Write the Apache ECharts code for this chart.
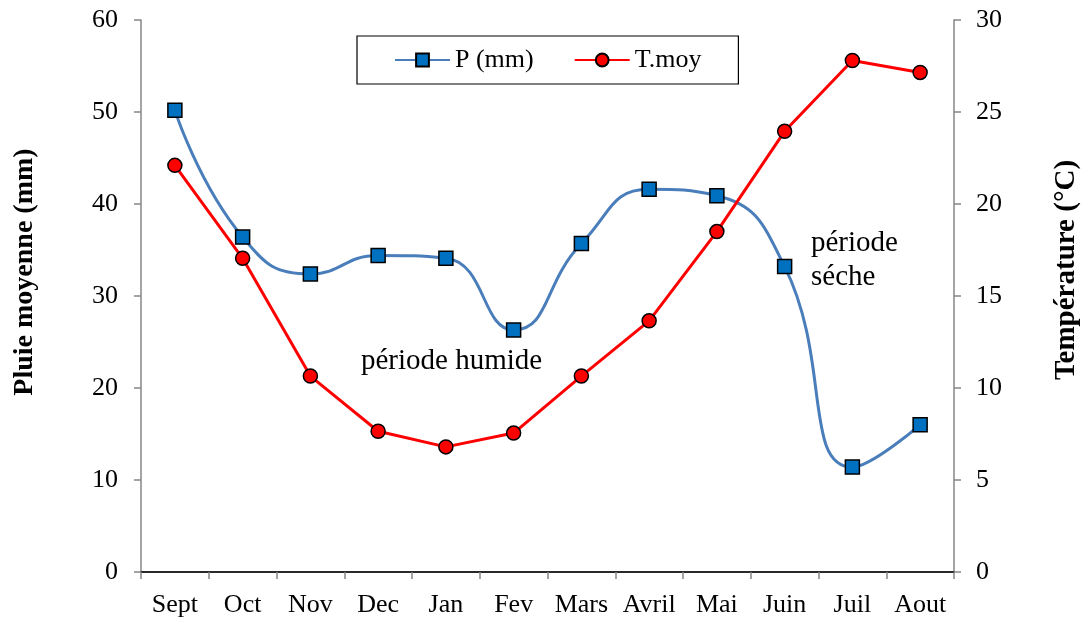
<!DOCTYPE html>
<html>
<head>
<meta charset="utf-8">
<script src="https://cdn.jsdelivr.net/npm/echarts@6/dist/echarts.min.js"></script>
<style>
html, body { margin: 0; padding: 0; background: #fff; }
#chart { width: 1089px; height: 619px; }
</style>
</head>
<body>
<div id="chart"></div>
<script>
// mois
const months = ['Sept', 'Oct', 'Nov', 'Dec', 'Jan', 'Fev', 'Mars', 'Avril', 'Mai', 'Juin', 'Juil', 'Aout'];
// pluie moyenne (mm)
const pluie = [50.2, 36.4, 32.4, 34.4, 34.1, 26.3, 35.7, 41.6, 40.9, 33.2, 11.4, 16.0];
// temperature moyenne (°C)
const tmoy = [22.1, 17.05, 10.65, 7.65, 6.8, 7.55, 10.65, 13.65, 18.5, 23.95, 27.8, 27.15];

const FONT = '"Liberation Serif", "Times New Roman", serif';
const GREY = '#868686';

let myChart = echarts.init(document.getElementById('chart'));
let option = {
    backgroundColor: '#fff',
    textStyle: { fontFamily: FONT },
    animation: false,
    legend: {
        left: 357,
        top: 36,
        padding: [11, 37, 11, 37],
        itemGap: 40,
        itemWidth: 55,
        itemHeight: 16,
        borderColor: '#000',
        borderWidth: 1.2,
        textStyle: { fontFamily: FONT, fontSize: 26, color: '#000' },
        data: ['P (mm)', 'T.moy']
    },
    grid: { left: 141, right: 135, top: 20, bottom: 47, outerBoundsMode: 'none' },
    xAxis: [
        {
            type: 'category',
            data: months,
            boundaryGap: true,
            axisLine: { lineStyle: { color: GREY, width: 1.5 } },
            axisTick: { show: true, interval: 0, length: 7, lineStyle: { color: GREY, width: 1.5 } },
            axisLabel: { interval: 0, color: '#000', fontSize: 26, fontFamily: FONT, margin: 20 }
        },
        {
            type: 'category',
            position: 'top',
            data: months,
            axisLine: { lineStyle: { color: '#000', width: 1.5 } },
            axisTick: { show: false },
            axisLabel: { show: false }
        }
    ],
    yAxis: [
        {
            type: 'value',
            min: 0, max: 60, interval: 10,
            name: 'Pluie moyenne (mm)',
            nameLocation: 'middle',
            nameRotate: 90,
            nameGap: 102,
            nameTextStyle: { fontFamily: FONT, fontSize: 28, fontWeight: 'bold', color: '#000', padding: [0, 0, 0, 48] },
            axisLine: { show: true, lineStyle: { color: GREY, width: 1.5 } },
            axisTick: { show: true, length: 7, lineStyle: { color: GREY, width: 1.5 } },
            axisLabel: { color: '#000', fontSize: 26, fontFamily: FONT, margin: 23 },
            splitLine: { show: false }
        },
        {
            type: 'value',
            min: 0, max: 30, interval: 5,
            position: 'right',
            name: 'Température (°C)',
            nameLocation: 'middle',
            nameRotate: 90,
            nameGap: 98,
            nameTextStyle: { fontFamily: FONT, fontSize: 29, fontWeight: 'bold', color: '#000', padding: [0, 0, 0, 52] },
            axisLine: { show: true, lineStyle: { color: GREY, width: 1.5 } },
            axisTick: { show: true, length: 7, lineStyle: { color: GREY, width: 1.5 } },
            axisLabel: { color: '#000', fontSize: 26, fontFamily: FONT, margin: 22 },
            splitLine: { show: false }
        }
    ],
    graphic: [
        { type: 'text', x: 361, y: 361, style: { text: 'période humide', font: '29px ' + FONT, fill: '#000', verticalAlign: 'middle' } },
        { type: 'text', x: 811, y: 243, style: { text: 'période', font: '29px ' + FONT, fill: '#000', verticalAlign: 'middle' } },
        { type: 'text', x: 811, y: 277, style: { text: 'séche', font: '29px ' + FONT, fill: '#000', verticalAlign: 'middle' } }
    ],
    series: [
        {
            name: 'P (mm)',
            type: 'line',
            yAxisIndex: 0,
            data: pluie,
            smooth: 0.5,
            symbol: 'rect',
            symbolSize: 14,
            lineStyle: { color: '#4A7EBB', width: 3 },
            itemStyle: { color: '#0070C0', borderColor: '#000', borderWidth: 1.5 },
            z: 3
        },
        {
            name: 'T.moy',
            type: 'line',
            yAxisIndex: 1,
            data: tmoy,
            smooth: false,
            symbol: 'circle',
            symbolSize: 14,
            lineStyle: { color: '#FF0000', width: 3 },
            itemStyle: { color: '#FF0000', borderColor: '#000', borderWidth: 1.5 },
            z: 4
        }
    ]
};
myChart.setOption(option);
</script>
</body>
</html>
